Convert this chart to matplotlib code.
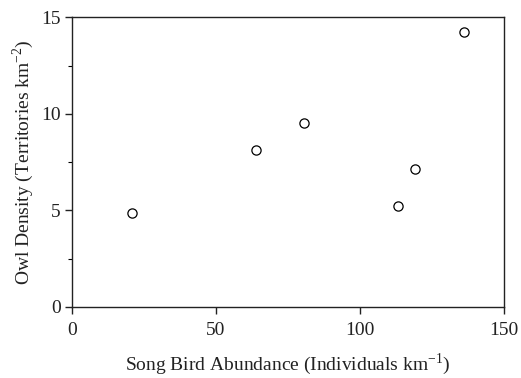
import matplotlib
matplotlib.use("Agg")
import matplotlib.pyplot as plt
from matplotlib.ticker import MultipleLocator

songbird = [20.7, 63.8, 80.6, 113.1, 119.1, 136.3]
owl_density = [4.87, 8.14, 9.54, 5.24, 7.16, 14.22]
xticks = [0, 50, 100, 150]
yticks = [0, 5, 10, 15]

plt.rcParams['font.family'] = ['Liberation Serif', 'DejaVu Serif']
plt.rcParams['mathtext.fontset'] = 'custom'
plt.rcParams['mathtext.rm'] = 'Liberation Serif'

fig = plt.figure(figsize=(5.21, 3.78), dpi=100)
ax = fig.add_axes([0.138, 0.188, 0.829, 0.766])
ax.scatter(songbird, owl_density, s=44, facecolors='white', edgecolors='black', linewidths=0.9, zorder=3)
ax.set_xlim(0, 150)
ax.set_ylim(0, 15)
ax.set_xticks(xticks)
ax.set_yticks(yticks)
ax.yaxis.set_minor_locator(MultipleLocator(2.5))
ax.tick_params(which='major', direction='out', length=5, width=1, labelsize=14, colors='#222222')
ax.tick_params(which='minor', direction='out', length=3, width=0.8)
ax.tick_params(axis='x', pad=6)
ax.tick_params(axis='y', pad=3)
for s in ax.spines.values():
    s.set_linewidth(1.0)
    s.set_color('#222222')
ax.set_xlabel('Song Bird Abundance (Individuals km$^{\\mathregular{-1}}$)', fontsize=14, labelpad=9, color='#222222')
ax.set_ylabel('Owl Density (Territories km$^{\\mathregular{-2}}$)', fontsize=14, labelpad=4, color='#222222')
fig.savefig('out.png', dpi=100)
